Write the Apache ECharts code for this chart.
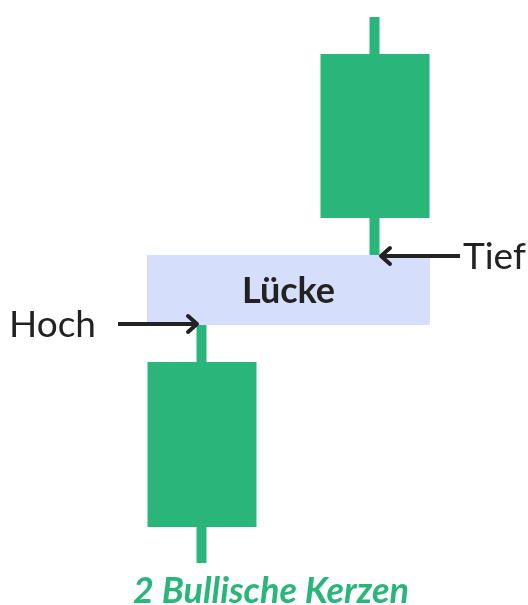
<!DOCTYPE html>
<html>
<head>
<meta charset="utf-8">
<script src="https://cdn.jsdelivr.net/npm/echarts@6/dist/echarts.min.js"></script>
<style>
  html, body { margin: 0; padding: 0; background: #fff; }
  #main { width: 528px; height: 605px; }
</style>
</head>
<body>
<div id="main"></div>
<script>
// Daten: zwei bullische Kerzen mit Lücke dazwischen
var categories = ['Kerze 1', 'Kerze 2'];
// [open, close, low, high]
var candles = [
  [83, 238, 42, 280],
  [392, 546, 350, 588]
];
// Lücke zwischen Hoch der 1. und Tief der 2. Kerze
var gapRange = [280, 350];
var gapLabel = 'Lücke';
// Pfeile: [kategorie, wert, text, richtung]
var markers = [
  [1, 349, 'Tief', 'left'],
  [0, 281, 'Hoch', 'right']
];
var caption = '2 Bullische Kerzen';

var green = '#2ab57a';
var ink = '#222222';

var chart = echarts.init(document.getElementById('main'));

var option = {
  animation: false,
  backgroundColor: '#ffffff',
  title: {
    text: caption,
    left: 266,
    textAlign: 'center',
    bottom: -9,
    textStyle: {
      fontFamily: 'Lato',
      fontSize: 36,
      fontWeight: 'bold',
      fontStyle: 'italic',
      color: green
    }
  },
  grid: { left: 115.5, width: 346, top: 0, height: 605 },
  xAxis: {
    type: 'category',
    data: categories,
    show: false
  },
  yAxis: {
    type: 'value',
    min: 0,
    max: 605,
    show: false
  },
  series: [
    {
      // Lücke als Rechteck hinter den Kerzen
      type: 'custom',
      z: 1,
      data: [[0, 1, gapRange[0], gapRange[1], gapLabel]],
      renderItem: function (params, api) {
        var p0 = api.coord([api.value(0), api.value(2)]);
        var p1 = api.coord([api.value(1), api.value(3)]);
        var x0 = p0[0] - 55, x1 = p1[0] + 55;
        return {
          type: 'group',
          children: [
            {
              type: 'rect',
              shape: { x: x0, y: p1[1], width: x1 - x0, height: p0[1] - p1[1] },
              style: { fill: '#d5defb' }
            },
            {
              type: 'text',
              style: {
                text: gapLabel,
                x: (x0 + x1) / 2,
                y: (p0[1] + p1[1]) / 2 + 1,
                align: 'center',
                verticalAlign: 'middle',
                fontFamily: 'Lato',
                fontSize: 36,
                fontWeight: 'bold',
                fill: ink
              }
            }
          ]
        };
      }
    },
    {
      type: 'candlestick',
      z: 2,
      barWidth: 100,
      data: candles,
      itemStyle: {
        color: green,
        color0: green,
        borderColor: green,
        borderColor0: green,
        borderWidth: 10
      }
    },
    {
      // Pfeile mit Beschriftung
      type: 'custom',
      z: 3,
      data: markers,
      renderItem: function (params, api) {
        var pt = api.coord([api.value(0), api.value(1)]);
        var m = markers[params.dataIndex];
        var dir = m[3] === 'left' ? -1 : 1;
        var tipX = pt[0] + (dir < 0 ? 6 : -5);
        var tailX = tipX - dir * 79;
        var y = pt[1];
        return {
          type: 'group',
          children: [
            {
              type: 'line',
              shape: { x1: tailX, y1: y, x2: tipX - dir * 2, y2: y },
              style: { stroke: ink, lineWidth: 4 }
            },
            {
              type: 'polyline',
              shape: { points: [[tipX - dir * 9, y - 8], [tipX, y], [tipX - dir * 9, y + 8]] },
              style: { stroke: ink, lineWidth: 4, fill: null, lineJoin: 'round', lineCap: 'round' }
            },
            {
              type: 'text',
              style: {
                text: m[2],
                x: dir < 0 ? tailX + 3 : tailX - 22,
                y: y + 1,
                align: dir < 0 ? 'left' : 'right',
                verticalAlign: 'middle',
                fontFamily: 'Lato',
                fontSize: 37,
                fill: ink
              }
            }
          ]
        };
      }
    }
  ]
};

chart.setOption(option);
</script>
</body>
</html>
